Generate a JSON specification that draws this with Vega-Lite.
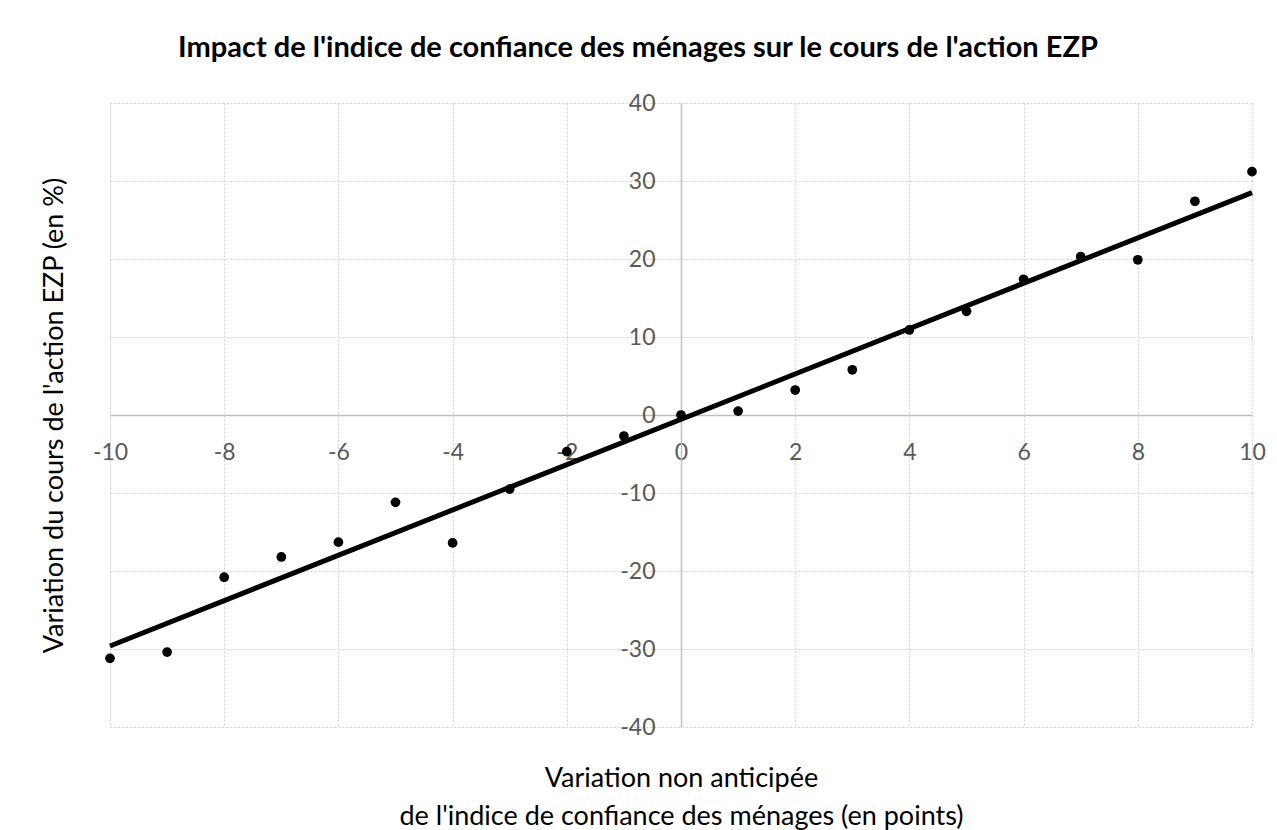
{
  "$schema": "https://vega.github.io/schema/vega-lite/v6.json",
  "width": 1142,
  "height": 624,
  "autosize": {"type": "none"},
  "padding": {"left": 110, "top": 103, "right": 25, "bottom": 103},
  "background": "white",
  "config": {"view": {"stroke": null}, "font": "Lato"},
  "title": {
    "text": "Impact de l'indice de confiance des ménages sur le cours de l'action EZP",
    "fontSize": 29,
    "fontWeight": "bold",
    "font": "Lato",
    "color": "#000000",
    "anchor": "middle",
    "dx": -43,
    "offset": 0,
    "baseline": "bottom"
  },
  "data": {
    "values": [
      {"x": -10, "y": -31.2},
      {"x": -9, "y": -30.4},
      {"x": -8, "y": -20.8},
      {"x": -7, "y": -18.2},
      {"x": -6, "y": -16.3},
      {"x": -5, "y": -11.2},
      {"x": -4, "y": -16.4},
      {"x": -3, "y": -9.5},
      {"x": -2, "y": -4.7},
      {"x": -1, "y": -2.7},
      {"x": 0, "y": 0},
      {"x": 1, "y": 0.5},
      {"x": 2, "y": 3.2},
      {"x": 3, "y": 5.8},
      {"x": 4, "y": 10.9},
      {"x": 5, "y": 13.3},
      {"x": 6, "y": 17.4},
      {"x": 7, "y": 20.3},
      {"x": 8, "y": 19.9},
      {"x": 9, "y": 27.4},
      {"x": 10, "y": 31.2}
    ]
  },
  "encoding": {
    "x": {
      "field": "x",
      "type": "quantitative",
      "scale": {"domain": [-10, 10], "nice": false, "zero": false},
      "axis": {
        "orient": "bottom",
        "offset": -312,
        "values": [-10, -8, -6, -4, -2, 0, 2, 4, 6, 8, 10],
        "labelExpr": "'' + datum.value",
        "grid": true,
        "gridColor": "#cfcfcf",
        "gridDash": [2, 2],
        "gridWidth": 1,
        "domainColor": "#bfbfbf",
        "domainWidth": 1.5,
        "ticks": false,
        "labelFont": "Lato",
        "labelFontSize": 23,
        "labelColor": "#595959",
        "labelPadding": 26,
        "labelFlush": false,
        "labelOverlap": false,
        "title": ["Variation non anticipée", "de l'indice de confiance des ménages (en points)"],
        "titleFont": "Lato",
        "titleFontSize": 27,
        "titleFontWeight": "normal",
        "titleColor": "#000000",
        "titleX": 571,
        "titleY": 350,
        "titleAlign": "center",
        "titleBaseline": "top",
        "titleLineHeight": 38
      }
    },
    "y": {
      "field": "y",
      "type": "quantitative",
      "scale": {"domain": [-40, 40], "nice": false, "zero": false},
      "axis": {
        "orient": "left",
        "offset": -571,
        "values": [-40, -30, -20, -10, 0, 10, 20, 30, 40],
        "labelExpr": "'' + datum.value",
        "grid": true,
        "gridColor": "#cfcfcf",
        "gridDash": [2, 2],
        "gridWidth": 1,
        "domainColor": "#bfbfbf",
        "domainWidth": 1.5,
        "ticks": false,
        "labelFont": "Lato",
        "labelFontSize": 23,
        "labelColor": "#595959",
        "labelPadding": 26,
        "labelFlush": false,
        "labelOverlap": false,
        "title": "Variation du cours de l'action EZP (en %)",
        "titleFont": "Lato",
        "titleFontSize": 27,
        "titleFontWeight": "normal",
        "titleColor": "#000000",
        "titleX": -627,
        "titleY": 312,
        "titleAngle": -90,
        "titleAlign": "center",
        "titleBaseline": "middle"
      }
    }
  },
  "layer": [
    {
      "transform": [{"regression": "y", "on": "x", "extent": [-10, 10]}],
      "mark": {"type": "line", "color": "#000000", "strokeWidth": 5}
    },
    {
      "mark": {"type": "circle", "color": "#000000", "size": 95, "opacity": 1}
    }
  ]
}
